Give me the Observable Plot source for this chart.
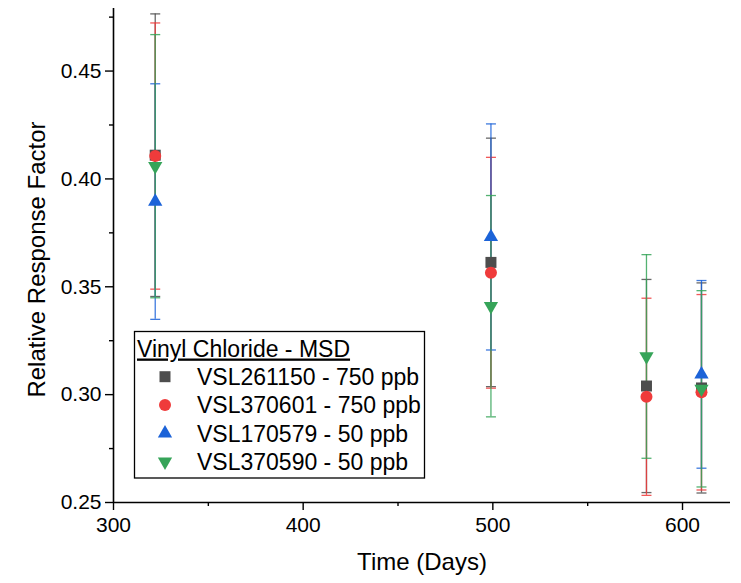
<!DOCTYPE html>
<html><head><meta charset="utf-8">
<script src="https://cdn.jsdelivr.net/npm/d3@7"></script>
<script src="https://cdn.jsdelivr.net/npm/@observablehq/plot@0.6"></script>
<style>body{margin:0;background:#fff} #chart{width:741px;height:583px}</style>
</head><body><div id="chart"></div>
<script>
// ---- data ----
const days = [322, 499, 581, 610];
const seriesNames = ["VSL261150 - 750 ppb", "VSL370601 - 750 ppb", "VSL170579 - 50 ppb", "VSL370590 - 50 ppb"];
const legendTitle = "Vinyl Chloride - MSD";
const colors = ["#4d4d4d", "#ef3b3b", "#1c63d8", "#36a459"];
const symbolNames = ["square", "circle", "triangle", "triangle"];
const rotations = [0, 0, 0, 180];
const meanGray  = [0.4110, 0.3613, 0.3040, 0.3031];
const meanRed   = [0.4106, 0.3565, 0.2990, 0.3011];
const meanBlue  = [0.3895, 0.3731, null,   0.3094];
const meanGreen = [0.4059, 0.3410, 0.3177, 0.3027];
const errGray   = [0.0655, 0.0576, 0.0494, 0.0487];
const errRed    = [0.0617, 0.0535, 0.0457, 0.0453];
const errBlue   = [0.0546, 0.0524, null,   0.0435];
const errGreen  = [0.0610, 0.0513, 0.0472, 0.0455];
const yTicks = [0.25, 0.30, 0.35, 0.40, 0.45];
const yMinor = [0.275, 0.325, 0.375, 0.425, 0.475];
const xTicks = [300, 400, 500, 600];
const xMinor = [350, 450, 550];
const xLabel = "Time (Days)";
const yLabel = "Relative Response Factor";

const FONT = "Liberation Sans, Arial, sans-serif";
const means = [meanGray, meanRed, meanBlue, meanGreen];
const errs = [errGray, errRed, errBlue, errGreen];

const rowsBySeries = seriesNames.map((name, s) =>
  days.map((d, i) => means[s][i] == null ? null : ({
    series: name, day: d, mean: means[s][i],
    lo: means[s][i] - errs[s][i], hi: means[s][i] + errs[s][i]
  })).filter(r => r));

const capSymbol = {
  draw(context, size) {
    const w = Math.sqrt(size / Math.PI);
    context.moveTo(-w, 0);
    context.lineTo(w, 0);
  }
};
const symbolR = [6.2, 6, 5.3, 5.3];

const marks = [];
rowsBySeries.forEach((rows) => {
  marks.push(Plot.ruleX(rows, {x: "day", y1: "lo", y2: "hi", stroke: "series", strokeWidth: 1.3, strokeOpacity: 0.85}));
  marks.push(Plot.dot(rows, {x: "day", y: "hi", symbol: capSymbol, r: 5, stroke: "series", fill: "none", strokeWidth: 1.3, strokeOpacity: 0.85}));
  marks.push(Plot.dot(rows, {x: "day", y: "lo", symbol: capSymbol, r: 5, stroke: "series", fill: "none", strokeWidth: 1.3, strokeOpacity: 0.85}));
});
rowsBySeries.forEach((rows, s) => {
  marks.push(Plot.dot(rows, {x: "day", y: "mean", symbol: symbolNames[s], r: symbolR[s], fill: "series", stroke: "none", rotate: rotations[s]}));
});

const chart = Plot.plot({
  width: 741, height: 583,
  marginLeft: 113, marginRight: 11, marginTop: 8, marginBottom: 81,
  style: {fontFamily: FONT, color: "#000", background: "#fff"},
  x: {domain: [300, 625.3], axis: null},
  y: {domain: [0.25, 0.479], axis: null},
  color: {domain: seriesNames, range: colors},
  marks: [
    ...marks,
    Plot.axisY({ticks: yTicks, tickSize: 8, tickPadding: 4, fontSize: 21, tickFormat: d3.format(".2f"), label: null, strokeWidth: 1.4}),
    Plot.axisY({ticks: yMinor, tickSize: 4, tickFormat: () => "", label: null, strokeWidth: 1.4}),
    Plot.axisX({ticks: xTicks, tickSize: 8, tickPadding: 7, fontSize: 21, tickFormat: d3.format("d"), label: null, strokeWidth: 1.4}),
    Plot.axisX({ticks: xMinor, tickSize: 4, tickFormat: () => "", label: null, strokeWidth: 1.4}),
    Plot.ruleX([300], {strokeWidth: 1.6}),
    Plot.ruleY([0.25], {strokeWidth: 1.6}),
    Plot.text([yLabel], {frameAnchor: "left", dx: -76, dy: 4, rotate: -90, textAnchor: "middle", fontSize: 24, text: d => d}),
    Plot.text([xLabel], {frameAnchor: "bottom", dy: 67, textAnchor: "middle", fontSize: 24, text: d => d})
  ]
});
document.getElementById("chart").appendChild(chart);

// ---- legend ----
const svg = d3.select(chart);
const lg = svg.append("g").attr("font-family", FONT).attr("font-size", 23).attr("text-anchor", "start");
lg.append("rect").attr("x", 134.5).attr("y", 331.5).attr("width", 290).attr("height", 146.5)
  .attr("fill", "#fff").attr("stroke", "#000").attr("stroke-width", 1.3);
lg.append("text").attr("x", 137).attr("y", 356.5).attr("text-decoration", "underline").text(legendTitle);
const d3Sym = {square: d3.symbolSquare, circle: d3.symbolCircle, triangle: d3.symbolTriangle};
const rowY = [376.7, 405, 433.3, 461.7];
seriesNames.forEach((name, s) => {
  const r = symbolR[s];
  lg.append("path")
    .attr("d", d3.symbol().type(d3Sym[symbolNames[s]]).size(Math.PI * r * r)())
    .attr("transform", `translate(165,${rowY[s]}) rotate(${rotations[s]})`)
    .attr("fill", colors[s]);
  lg.append("text").attr("x", 197).attr("y", rowY[s] + 8.2).text(name);
});
</script>
</body></html>
